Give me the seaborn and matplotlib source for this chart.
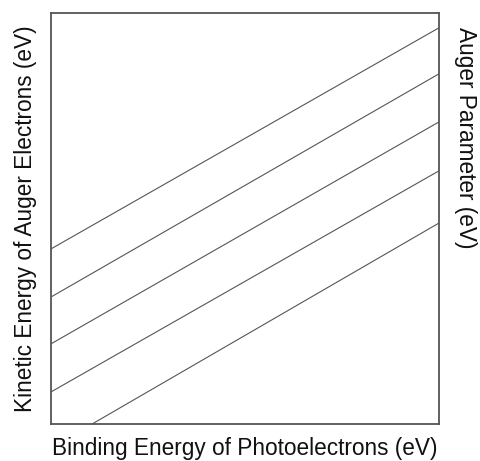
import pandas as pd
import matplotlib.pyplot as plt
import seaborn as sns

# endpoints of the parallel lines (arbitrary units, axes 0..10)
line_ids = ["a", "b", "c", "d", "e"]
x_start = [0.0, 0.0, 0.0, 0.0, 1.06]
y_start = [4.26, 3.09, 1.95, 0.78, 0.0]
x_end = [10.0, 10.0, 10.0, 10.0, 10.0]
y_end = [9.64, 8.52, 7.35, 6.16, 4.89]

rows = []
for lid, x0, y0, x1, y1 in zip(line_ids, x_start, y_start, x_end, y_end):
    rows.append({"line": lid, "x": x0, "y": y0})
    rows.append({"line": lid, "x": x1, "y": y1})
df = pd.DataFrame(rows)

sns.set_style("white")
plt.rcParams["font.family"] = ["Liberation Sans", "DejaVu Sans"]

fig = plt.figure(figsize=(4.8, 4.61), dpi=100)
ax = fig.add_axes([51 / 480, 37 / 461, 388 / 480, 411 / 461])

sns.lineplot(data=df, x="x", y="y", units="line", estimator=None,
             color="#555555", linewidth=0.8, ax=ax, legend=False)

ax.set_xlim(0, 10)
ax.set_ylim(0, 10)
ax.set_xticks([])
ax.set_yticks([])
for s in ax.spines.values():
    s.set_color("#555555")
    s.set_linewidth(1.3)

ax.set_xlabel("Binding Energy of Photoelectrons (eV)", fontsize=16.3,
              labelpad=9, color="#111111")
ax.set_ylabel("Kinetic Energy of Auger Electrons (eV)", fontsize=16.3,
              labelpad=10, color="#111111")
fig.text(466 / 480, 1 - 27 / 461, "Auger Parameter (eV)", rotation=-90,
         fontsize=16.3, ha="center", va="top", color="#111111")

fig.savefig("out.png", dpi=100)
